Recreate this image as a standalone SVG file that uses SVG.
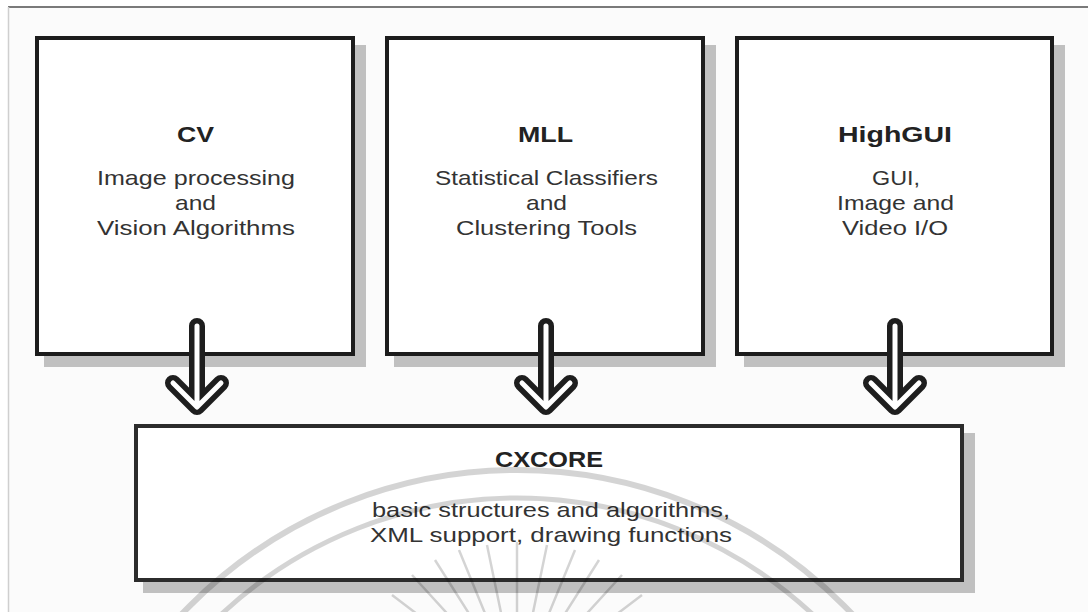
<svg xmlns="http://www.w3.org/2000/svg" width="1088" height="612" viewBox="0 0 1088 612">
  <defs>
    <style>
      .shadow { fill: #c0c0c0; }
      .box { fill: #ffffff; stroke: #1c1c1c; stroke-width: 4; }
      .core { fill: #ffffff; stroke: #2c2c2c; stroke-width: 4; }
      .title { font-family: "Liberation Sans", Arial, sans-serif; font-weight: bold; font-size: 22px; fill: #222222; }
      .body { font-family: "Liberation Sans", Arial, sans-serif; font-size: 21px; fill: #333333; }
      .arrow-out { fill: none; stroke: #1e1e1e; stroke-width: 16; stroke-linecap: round; stroke-linejoin: round; }
      .arrow-in { fill: none; stroke: #ffffff; stroke-width: 5; stroke-linecap: round; stroke-linejoin: round; }
      .wm { fill: none; stroke: #000000; stroke-opacity: 0.17; }
    </style>
    <path id="arr" d="M0,326 L0,406 M-24,383 L0,407 L24,383"/>
  </defs>

  <rect x="0" y="0" width="1088" height="612" fill="#ffffff"/>
  <rect x="8" y="7" width="1080" height="605" fill="#fbfbfb"/>
  <line x1="8" y1="7" x2="1088" y2="7" stroke="#7a7a7a" stroke-width="2"/>
  <line x1="8.5" y1="7" x2="8.5" y2="612" stroke="#cfcfcf" stroke-width="1.5"/>

  <g id="cv">
    <rect class="shadow" x="44" y="45" width="322" height="322"/>
    <rect class="box" x="37" y="38" width="316" height="316"/>
    <text class="title" x="177" y="142" textLength="37" lengthAdjust="spacingAndGlyphs">CV</text>
    <text class="body" x="97" y="185" textLength="198" lengthAdjust="spacingAndGlyphs">Image processing</text>
    <text class="body" x="175" y="210" textLength="41" lengthAdjust="spacingAndGlyphs">and</text>
    <text class="body" x="97" y="235" textLength="198" lengthAdjust="spacingAndGlyphs">Vision Algorithms</text>
  </g>

  <g id="mll">
    <rect class="shadow" x="394" y="45" width="322" height="322"/>
    <rect class="box" x="387" y="38" width="316" height="316"/>
    <text class="title" x="518" y="142" textLength="55" lengthAdjust="spacingAndGlyphs">MLL</text>
    <text class="body" x="435" y="185" textLength="223" lengthAdjust="spacingAndGlyphs">Statistical Classifiers</text>
    <text class="body" x="526" y="210" textLength="41" lengthAdjust="spacingAndGlyphs">and</text>
    <text class="body" x="456" y="235" textLength="181" lengthAdjust="spacingAndGlyphs">Clustering Tools</text>
  </g>

  <g id="highgui">
    <rect class="shadow" x="744" y="45" width="321" height="322"/>
    <rect class="box" x="737" y="38" width="315" height="316"/>
    <text class="title" x="838" y="142" textLength="114" lengthAdjust="spacingAndGlyphs">HighGUI</text>
    <text class="body" x="872" y="185" textLength="48" lengthAdjust="spacingAndGlyphs">GUI,</text>
    <text class="body" x="837" y="210" textLength="117" lengthAdjust="spacingAndGlyphs">Image and</text>
    <text class="body" x="842" y="235" textLength="106" lengthAdjust="spacingAndGlyphs">Video I/O</text>
  </g>

  <g id="cxcore">
    <rect class="shadow" x="143" y="433" width="832" height="160"/>
    <rect class="core" x="136" y="426" width="826" height="154"/>
    <text class="title" x="495" y="467" textLength="108" lengthAdjust="spacingAndGlyphs">CXCORE</text>
    <text class="body" x="372" y="517" textLength="358" lengthAdjust="spacingAndGlyphs">basic structures and algorithms,</text>
    <text class="body" x="370" y="542" textLength="362" lengthAdjust="spacingAndGlyphs">XML support, drawing functions</text>
  </g>

  <g id="connectors">
    <g transform="translate(197,0)">
      <use href="#arr" class="arrow-out"/>
      <use href="#arr" class="arrow-in"/>
    </g>
    <g transform="translate(546,0)">
      <use href="#arr" class="arrow-out"/>
      <use href="#arr" class="arrow-in"/>
    </g>
    <g transform="translate(895,0)">
      <use href="#arr" class="arrow-out"/>
      <use href="#arr" class="arrow-in"/>
    </g>
  </g>

  <g id="watermark">
    <circle class="wm" cx="517" cy="932" r="462" stroke-width="6"/>
    <circle class="wm" cx="517" cy="932" r="434" stroke-width="5"/>
    <g class="wm" stroke-width="2.5">
      <path d="M517,690 m-150,-40 l120,32 M517,690 m-140,-70 l112,56 M517,690 m-125,-95 l100,76 M517,690 m-105,-115 l84,92 M517,690 m-82,-130 l66,104 M517,690 m-58,-140 l46,112 M517,690 m-30,-145 l24,116 M517,690 m0,-148 l0,118 M517,690 m30,-145 l-24,116 M517,690 m58,-140 l-46,112 M517,690 m82,-130 l-66,104 M517,690 m105,-115 l-84,92 M517,690 m125,-95 l-100,76 M517,690 m140,-70 l-112,56 M517,690 m150,-40 l-120,32"/>
    </g>
  </g>
</svg>
